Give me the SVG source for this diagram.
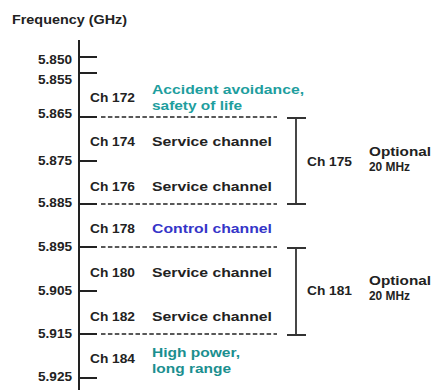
<svg xmlns="http://www.w3.org/2000/svg" width="432" height="390" viewBox="0 0 432 390">
  <style>
    text { font-family: "Liberation Sans", Arial, sans-serif; font-weight: bold; font-size: 12.5px; fill: #222; }
    .num { text-anchor: end; }
    .teal { fill: #1e9e9e; }
    .teal2 { fill: #1b8f8f; }
    .blue { fill: #3535c8; }
    .axis { stroke: #222; stroke-width: 2; fill: none; }
    .tick { stroke: #222; stroke-width: 2; }
    .dash { stroke: #222; stroke-width: 1.6; stroke-dasharray: 4.5 2.4; }
    .bracket { stroke: #333; stroke-width: 1.8; fill: none; }
  </style>
  <rect width="432" height="390" fill="#fff"/>

  <text x="12" y="24" textLength="115" lengthAdjust="spacingAndGlyphs">Frequency (GHz)</text>

  <!-- frequency axis and scale ticks -->
  <g id="axis">
    <line class="axis" x1="79" y1="40" x2="79" y2="390"/>
    <line class="tick" x1="79" y1="57" x2="97" y2="57"/>
    <line class="tick" x1="79" y1="73" x2="97" y2="73"/>
    <line class="tick" x1="79" y1="117" x2="97" y2="117"/>
    <line class="tick" x1="79" y1="161" x2="97" y2="161"/>
    <line class="tick" x1="79" y1="204" x2="97" y2="204"/>
    <line class="tick" x1="79" y1="247" x2="97" y2="247"/>
    <line class="tick" x1="79" y1="291" x2="97" y2="291"/>
    <line class="tick" x1="79" y1="334" x2="97" y2="334"/>
    <line class="tick" x1="79" y1="378" x2="97" y2="378"/>
    <text class="num" x="72" y="64" textLength="34" lengthAdjust="spacingAndGlyphs">5.850</text>
    <text class="num" x="72" y="84" textLength="34" lengthAdjust="spacingAndGlyphs">5.855</text>
    <text class="num" x="72" y="118" textLength="34" lengthAdjust="spacingAndGlyphs">5.865</text>
    <text class="num" x="72" y="165" textLength="34" lengthAdjust="spacingAndGlyphs">5.875</text>
    <text class="num" x="72" y="207" textLength="34" lengthAdjust="spacingAndGlyphs">5.885</text>
    <text class="num" x="72" y="251" textLength="34" lengthAdjust="spacingAndGlyphs">5.895</text>
    <text class="num" x="72" y="295" textLength="34" lengthAdjust="spacingAndGlyphs">5.905</text>
    <text class="num" x="72" y="338" textLength="34" lengthAdjust="spacingAndGlyphs">5.915</text>
    <text class="num" x="72" y="381" textLength="34" lengthAdjust="spacingAndGlyphs">5.925</text>
  </g>

  <!-- channel boundaries -->
  <g id="connectors">
    <line class="dash" x1="101" y1="117" x2="277" y2="117"/>
    <line class="dash" x1="101" y1="204" x2="277" y2="204"/>
    <line class="dash" x1="101" y1="247" x2="277" y2="247"/>
    <line class="dash" x1="101" y1="334" x2="277" y2="334"/>
    <path class="bracket" d="M287 118 H306 M296 118 V204 M287 204 H306"/>
    <path class="bracket" d="M287 248 H306 M296 248 V335 M287 335 H306"/>
  </g>

  <g id="ch172">
    <text x="90" y="102" textLength="45" lengthAdjust="spacingAndGlyphs">Ch 172</text>
    <text class="teal" x="152" y="94" textLength="152" lengthAdjust="spacingAndGlyphs">Accident avoidance,</text>
    <text class="teal" x="152" y="110" textLength="90" lengthAdjust="spacingAndGlyphs">safety of life</text>
  </g>
  <g id="ch174">
    <text x="90" y="146" textLength="45" lengthAdjust="spacingAndGlyphs">Ch 174</text>
    <text x="152" y="146" textLength="120" lengthAdjust="spacingAndGlyphs">Service channel</text>
  </g>
  <g id="ch176">
    <text x="90" y="191" textLength="45" lengthAdjust="spacingAndGlyphs">Ch 176</text>
    <text x="152" y="191" textLength="120" lengthAdjust="spacingAndGlyphs">Service channel</text>
  </g>
  <g id="ch178">
    <text x="90" y="233" textLength="45" lengthAdjust="spacingAndGlyphs">Ch 178</text>
    <text class="blue" x="152" y="233" textLength="120" lengthAdjust="spacingAndGlyphs">Control channel</text>
  </g>
  <g id="ch180">
    <text x="90" y="277" textLength="45" lengthAdjust="spacingAndGlyphs">Ch 180</text>
    <text x="152" y="277" textLength="120" lengthAdjust="spacingAndGlyphs">Service channel</text>
  </g>
  <g id="ch182">
    <text x="90" y="321" textLength="45" lengthAdjust="spacingAndGlyphs">Ch 182</text>
    <text x="152" y="321" textLength="120" lengthAdjust="spacingAndGlyphs">Service channel</text>
  </g>
  <g id="ch184">
    <text x="90" y="363" textLength="45" lengthAdjust="spacingAndGlyphs">Ch 184</text>
    <text class="teal2" x="152" y="357" textLength="88" lengthAdjust="spacingAndGlyphs">High power,</text>
    <text class="teal2" x="152" y="373" textLength="79" lengthAdjust="spacingAndGlyphs">long range</text>
  </g>

  <g id="ch175">
    <text x="307" y="166" textLength="45" lengthAdjust="spacingAndGlyphs">Ch 175</text>
    <text x="369" y="156" textLength="62" lengthAdjust="spacingAndGlyphs">Optional</text>
    <text x="369" y="171" textLength="41" lengthAdjust="spacingAndGlyphs">20 MHz</text>
  </g>
  <g id="ch181">
    <text x="307" y="295" textLength="45" lengthAdjust="spacingAndGlyphs">Ch 181</text>
    <text x="369" y="285" textLength="62" lengthAdjust="spacingAndGlyphs">Optional</text>
    <text x="369" y="300" textLength="41" lengthAdjust="spacingAndGlyphs">20 MHz</text>
  </g>
</svg>
